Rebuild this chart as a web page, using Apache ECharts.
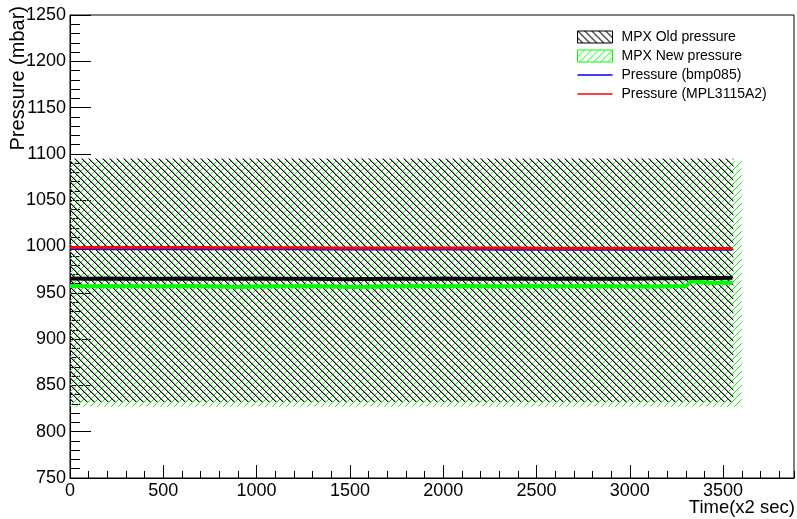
<!DOCTYPE html>
<html>
<head>
<meta charset="utf-8">
<script src="https://cdn.jsdelivr.net/npm/echarts@6/dist/echarts.min.js"></script>
<style>
html, body { margin: 0; padding: 0; background: #fff; }
#chart { width: 797px; height: 519px; }
</style>
</head>
<body>
<div id="chart"></div>
<script>
// time axis (x2 sec)
var time = [0, 100, 200, 300, 400, 500, 600, 700, 800, 900, 1000, 1100, 1200, 1300, 1400, 1500, 1600,
  1700, 1800, 1900, 2000, 2100, 2200, 2300, 2400, 2500, 2600, 2700, 2800, 2900, 3000, 3100, 3200,
  3300, 3330, 3400, 3450, 3500, 3550];

var bmp085 = [997.2, 997.2, 997.1, 997.1, 997.1, 997.0, 997.0, 997.0, 997.0, 996.9, 996.9, 996.9, 996.9,
  996.8, 996.8, 996.8, 996.8, 996.8, 996.7, 996.7, 996.7, 996.7, 996.7, 996.6, 996.6, 996.6, 996.6,
  996.6, 996.6, 996.5, 996.5, 996.5, 996.5, 996.5, 996.5, 996.5, 996.4, 996.4, 996.4];

var mpl3115 = [999.0, 999.0, 998.9, 998.9, 998.9, 998.8, 998.8, 998.8, 998.7, 998.7, 998.7, 998.6, 998.6,
  998.6, 998.5, 998.5, 998.5, 998.4, 998.4, 998.4, 998.4, 998.3, 998.3, 998.3, 998.3, 998.2, 998.2,
  998.2, 998.1, 998.1, 998.1, 998.0, 998.0, 998.0, 998.0, 997.9, 997.9, 997.9, 997.8];

var mpxOld = [965.5, 965.3, 965.4, 965.2, 965.3, 965.2, 965.4, 965.2, 965.1, 965.3, 965.5, 965.2, 965.1,
  965.3, 964.9, 964.7, 965.0, 965.2, 965.3, 965.1, 965.4, 965.2, 965.1, 965.3, 965.5, 965.2, 965.1,
  965.4, 965.2, 965.3, 965.1, 965.4, 965.6, 965.8, 965.9, 966.0, 966.1, 966.0, 966.2];

var mpxNew = [957.4, 957.2, 957.3, 957.1, 957.2, 957.1, 957.3, 957.1, 956.8, 956.3, 956.9, 957.2, 957.0,
  957.3, 956.9, 956.2, 956.5, 957.0, 957.2, 957.3, 957.1, 957.3, 957.2, 957.0, 957.2, 957.3, 957.2,
  957.0, 957.3, 957.0, 956.7, 956.8, 957.2, 957.4, 962.5, 961.3, 960.2, 961.2, 960.6];

// error bands of the MPX sensors: [xStart, xEnd, low, high]
var oldBand = [0, 3555, 832, 1095];
var newBand = [0, 3600, 827, 1092];

var xRange = [0, 3880];
var yRange = [750, 1250];

// ROOT-like hatch tiles
function hatch(color, back) {
  var c = document.createElement("canvas");
  c.width = 7;
  c.height = 7;
  var ctx = c.getContext("2d");
  for (var i = 0; i < 7; i++) {
    if (back) {
      ctx.fillStyle = "#9a9a9a";
      ctx.fillRect((i + 1) % 7, i, 1, 1);
      ctx.fillStyle = color;
      ctx.fillRect(i, i, 1, 1);
    } else {
      ctx.fillStyle = color;
      ctx.fillRect(6 - i, i, 1, 1);
    }
  }
  return { image: c, repeat: "repeat" };
}

function pairs(ys) {
  return time.map(function (t, i) { return [t, ys[i]]; });
}

function bandRenderer(color, back) {
  return function (params, api) {
    var p0 = api.coord([api.value(0), api.value(3)]);
    var p1 = api.coord([api.value(1), api.value(2)]);
    return {
      type: "rect",
      shape: { x: p0[0], y: p0[1], width: p1[0] - p0[0], height: p1[1] - p0[1] },
      style: { fill: hatch(color, back), stroke: null }
    };
  };
}

var font = "Liberation Sans";
var lineIcon = "path://M0,0L36,0L36,1.6L0,1.6Z";

var myChart = echarts.init(document.getElementById("chart"));
myChart.setOption({
  animation: false,
  backgroundColor: "#fff",
  grid: {
    left: 70, top: 15, right: 3, bottom: 41,
    show: true, borderColor: "#000", borderWidth: 1
  },
  legend: {
    orient: "vertical",
    left: 572,
    top: 25,
    itemWidth: 35,
    itemHeight: 12,
    itemGap: 5,
    textStyle: { fontSize: 14, fontFamily: font, color: "#000", lineHeight: 14, padding: [0, 0, 0, 4] },
    data: [
      { name: "MPX Old pressure", icon: "rect", itemStyle: { color: hatch("#000000", true), borderColor: "#000", borderWidth: 1 } },
      { name: "MPX New pressure", icon: "rect", itemStyle: { color: hatch("#00ff00", false), borderColor: "#00ff00", borderWidth: 1 } },
      { name: "Pressure (bmp085)", icon: lineIcon, itemStyle: { color: "#0000ff" } },
      { name: "Pressure (MPL3115A2)", icon: lineIcon, itemStyle: { color: "#ff0000" } }
    ]
  },
  graphic: [
    {
      type: "text", x: 18, y: 6, rotation: Math.PI / 2,
      style: { text: "Pressure (mbar)", font: '20px "Liberation Sans"', fill: "#000", align: "right", verticalAlign: "middle" }
    },
    {
      type: "text", right: 2, top: 498,
      style: { text: "Time(x2 sec)", font: '18.5px "Liberation Sans"', fill: "#000" }
    }
  ],
  xAxis: [
    {
      type: "value", min: xRange[0], max: xRange[1], interval: 500, position: "bottom",
      axisLine: { lineStyle: { color: "#000", width: 1 } },
      axisTick: { inside: true, length: 13, lineStyle: { color: "#000" } },
      axisLabel: { color: "#000", fontSize: 18, fontFamily: font, margin: 4, showMaxLabel: false,
        formatter: function (v) { return String(v); } },
      splitLine: { show: false }
    },
    {
      type: "value", min: xRange[0], max: xRange[1], interval: 100, position: "bottom",
      axisLine: { show: false },
      axisTick: { inside: true, length: 7, lineStyle: { color: "#000" } },
      axisLabel: { show: false },
      splitLine: { show: false }
    }
  ],
  yAxis: {
    type: "value", min: yRange[0], max: yRange[1], interval: 50,
    axisLine: { show: true, lineStyle: { color: "#000", width: 1 } },
    axisTick: { inside: true, length: 21, lineStyle: { color: "#000" } },
    minorTick: { show: true, splitNumber: 5, length: 10, lineStyle: { color: "#000" } },
    axisLabel: { color: "#000", fontSize: 18, fontFamily: font, margin: 4,
      formatter: function (v) { return String(v); } },
    splitLine: { show: false }
  },
  series: [
    {
      name: "MPX New pressure", type: "custom", silent: true,
      renderItem: bandRenderer("#00ff00", false),
      encode: { x: [0, 1], y: [2, 3] },
      itemStyle: { color: "#00ff00" },
      data: [newBand]
    },
    {
      name: "MPX Old pressure", type: "custom", silent: true,
      renderItem: bandRenderer("#000000", true),
      encode: { x: [0, 1], y: [2, 3] },
      itemStyle: { color: "#000" },
      data: [oldBand]
    },
    {
      name: "MPX New pressure", type: "line", symbol: "none",
      data: pairs(mpxNew),
      itemStyle: { color: "#00ff00" },
      lineStyle: { color: "#00ff00", width: 4 }
    },
    {
      name: "MPX Old pressure", type: "line", symbol: "none",
      data: pairs(mpxOld),
      itemStyle: { color: "#000" },
      lineStyle: { color: "#000", width: 4 }
    },
    {
      name: "Pressure (bmp085)", type: "line", symbol: "none",
      data: pairs(bmp085),
      itemStyle: { color: "#0000ff" },
      lineStyle: { color: "#0000ff", width: 2 }
    },
    {
      name: "Pressure (MPL3115A2)", type: "line", symbol: "none",
      data: pairs(mpl3115),
      itemStyle: { color: "#ff0000" },
      lineStyle: { color: "#ff0000", width: 3 }
    }
  ]
});
</script>
</body>
</html>
